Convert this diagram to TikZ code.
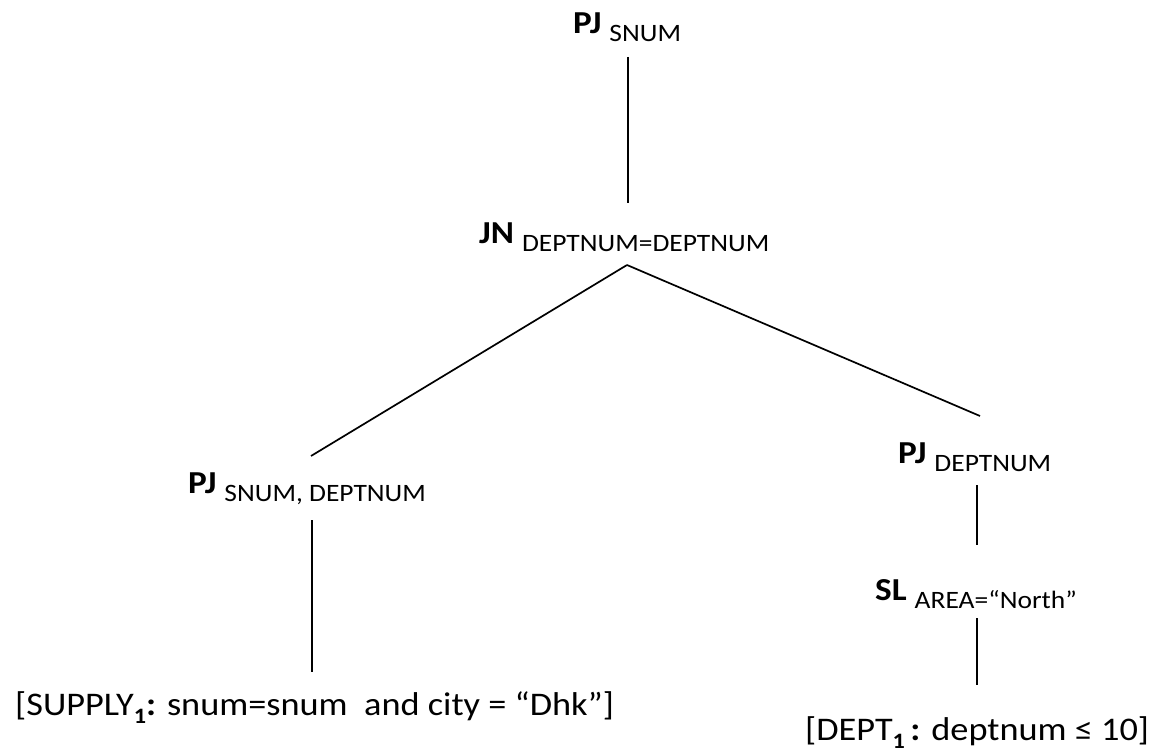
\documentclass[tikz,border=0pt]{standalone}
\usepackage{fontspec}
\setmainfont[FakeStretch=1.1]{Carlito}
\usetikzlibrary{calc}
\newcommand\opname[2]{\textbf{#1}\hspace{8pt}\raisebox{-8pt}{\fontsize{25}{28}\selectfont #2}}
\newcommand\relsub[1]{\raisebox{-8pt}{\fontsize{22}{24}\selectfont\bfseries #1}}
\begin{document}
\begin{tikzpicture}[x=1pt,y=-1pt,
  op/.style={inner sep=0pt, anchor=base west, font=\fontsize{32}{36}\selectfont},
  leaf/.style={inner sep=0pt, anchor=base west, font=\fontsize{33}{38}\selectfont},
  edge/.style={line width=1.7pt}]
\useasboundingbox (0,0) rectangle (1157,752);

% operator nodes of the query tree
\node[op] (pjtop) at (573,34)  {\opname{PJ}{SNUM}};
\node[op] (jn)    at (479,243) {\opname{JN}{DEPTNUM=DEPTNUM}};
\node[op] (pjl)   at (188,493) {\opname{PJ}{SNUM, DEPTNUM}};
\node[op] (pjr)   at (898,463) {\opname{PJ}{DEPTNUM}};
\node[op] (sl)    at (875,600) {\opname{SL}{AREA=“North”}};

% fragment leaves
\node[leaf] (supply) at (15,715)  {[SUPPLY\relsub{1}\textbf{:} snum=snum\ \ and city = “Dhk”]};
\node[leaf] (dept)   at (805,740) {[DEPT\relsub{1}\,\textbf{:} deptnum ≤ 10]};

% attachment points of the connectors
\coordinate (pjtop-b) at ($(pjtop.base west)+(55,23)$);
\coordinate (jn-t)    at ($(jn.base west)+(149,-40)$);
\coordinate (jn-b)    at ($(jn.base west)+(148,22)$);
\coordinate (pjl-t)   at ($(pjl.base west)+(123,-37)$);
\coordinate (pjl-b)   at ($(pjl.base west)+(124,27)$);
\coordinate (supply-t) at ($(supply.base west)+(297,-43)$);
\coordinate (pjr-t)   at ($(pjr.base west)+(82,-47)$);
\coordinate (pjr-b)   at ($(pjr.base west)+(79,22)$);
\coordinate (sl-t)    at ($(sl.base west)+(102,-55)$);
\coordinate (sl-b)    at ($(sl.base west)+(102,18)$);
\coordinate (dept-t)  at ($(dept.base west)+(172,-55)$);

\draw[edge] (pjtop-b) -- (jn-t);
\draw[edge] (jn-b) -- (pjl-t);
\draw[edge] (jn-b) -- (pjr-t);
\draw[edge] (pjl-b) -- (supply-t);
\draw[edge] (pjr-b) -- (sl-t);
\draw[edge] (sl-b) -- (dept-t);
\end{tikzpicture}
\end{document}
